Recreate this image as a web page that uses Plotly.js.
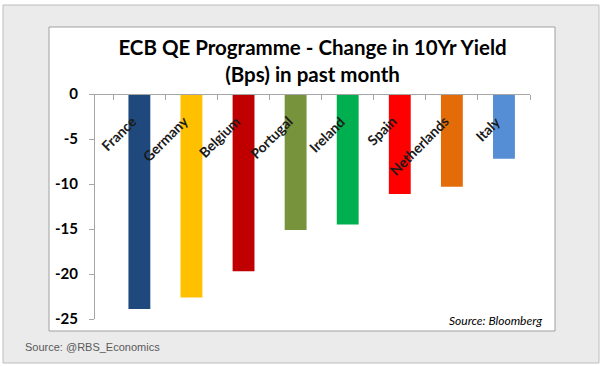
<!DOCTYPE html>
<html><head><meta charset="utf-8">
<script src="https://cdn.plot.ly/plotly-3.0.1.min.js"></script>
<style>html,body{margin:0;padding:0;background:#fff;}#chart{width:604px;height:366px;}</style>
</head><body><div id="chart"></div>
<script>
const countries = ["France","Germany","Belgium","Portugal","Ireland","Spain","Netherlands","Italy"];
const yieldChange = [-23.9,-22.6,-19.7,-15.1,-14.5,-11.1,-10.3,-7.2];
const barColors = ["#1F497D","#FFC000","#C00000","#77933C","#00B050","#FF0000","#E36C09","#558ED5"];
const yTickVals = [0,-5,-10,-15,-20,-25];

const L=95, R=530, T=94, B=319;
const px = v => (v - L)/(R - L);
const py = v => (B - v)/(B - T);

const labelAnns = countries.map(c => ({
  x: c, y: 0, xref: 'x', yref: 'y', text: '<b>' + c + '</b>', showarrow: false,
  textangle: -45, xanchor: 'right', yanchor: 'top', xshift: 3, yshift: -16,
  font: {family: 'Lato, "Open Sans", sans-serif', size: 14, color: '#1a1a1a'}
}));

const layout = {
  width: 604, height: 366,
  margin: {l: L, r: 604 - R, t: T, b: 366 - B, pad: 0},
  paper_bgcolor: '#ffffff', plot_bgcolor: 'rgba(0,0,0,0)',
  showlegend: false, bargap: 0.58,
  title: {text: '<b>ECB QE Programme - Change in 10Yr Yield<br>(Bps) in past month</b>',
    x: 0.5, xref: 'paper', xanchor: 'center', y: 0.85, yref: 'container', yanchor: 'middle',
    font: {family: 'Lato, "Open Sans", sans-serif', size: 20.5, color: '#000'}},
  xaxis: {type: 'category', showticklabels: false, showline: true, linecolor: '#A6A6A6', linewidth: 1,
    ticks: 'outside', tickson: 'boundaries', ticklen: 5, tickcolor: '#A6A6A6',
    side: 'bottom', anchor: 'free', position: 1, showgrid: false, zeroline: false, fixedrange: true},
  yaxis: {range: [-25, 0], tickvals: yTickVals, ticktext: yTickVals.map(v => '<b>' + v + '</b>'),
    showline: true, linecolor: '#A6A6A6', linewidth: 1, ticks: 'outside', ticklen: 5, tickcolor: '#A6A6A6',
    showgrid: false, zeroline: false, ticklabelstandoff: 8,
    tickfont: {family: 'Lato, "Open Sans", sans-serif', size: 15, color: '#000'}},
  shapes: [
    {type: 'rect', xref: 'paper', yref: 'paper', x0: px(3), x1: px(599), y0: py(363), y1: py(5),
      fillcolor: '#EBEBEB', line: {color: '#BDBDBD', width: 1}, layer: 'below'},
    {type: 'rect', xref: 'paper', yref: 'paper', x0: px(49), x1: px(555), y0: py(331), y1: py(27),
      fillcolor: '#FFFFFF', line: {color: '#A0A0A0', width: 1}, layer: 'below'}
  ],
  annotations: labelAnns.concat([
    {xref: 'paper', yref: 'paper', x: px(544), y: py(320), xanchor: 'right', yanchor: 'middle', showarrow: false,
      text: '<i>Source: Bloomberg</i>', font: {family: 'Lato, "Open Sans", sans-serif', size: 12, color: '#000'}},
    {xref: 'paper', yref: 'paper', x: px(23), y: py(347), xanchor: 'left', yanchor: 'middle', showarrow: false,
      text: 'Source: @RBS_Economics', font: {family: 'Liberation Sans, Arial, sans-serif', size: 11, color: '#595959'}}
  ])
};

Plotly.newPlot('chart', [{
  type: 'bar', x: countries, y: yieldChange, marker: {color: barColors, line: {width: 0}},
  hoverinfo: 'x+y'
}], layout, {displayModeBar: false, staticPlot: true});
</script></body></html>
